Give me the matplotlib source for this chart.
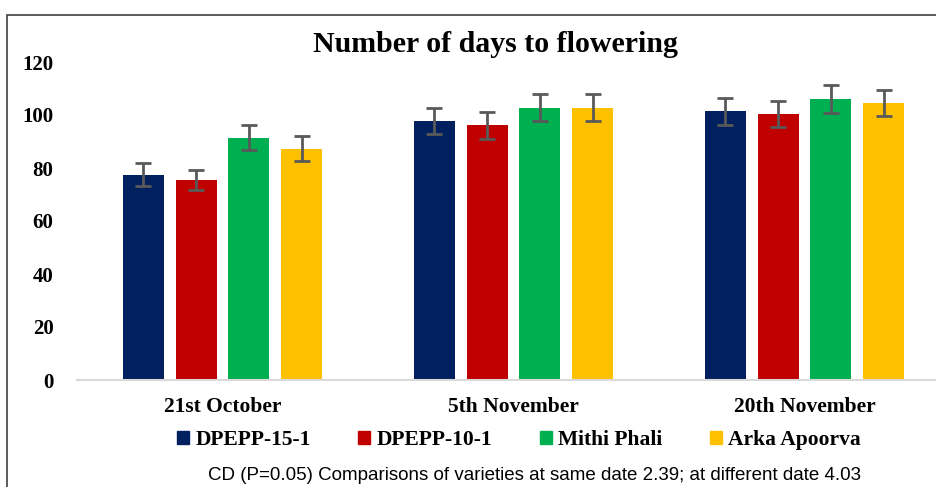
import numpy as np
import matplotlib.pyplot as plt
from matplotlib.patches import Rectangle, Patch

datoer = ["21st October", "5th November", "20th November"]
sorter = ["DPEPP-15-1", "DPEPP-10-1", "Mithi Phali", "Arka Apoorva"]
farger = ["#002060", "#C00000", "#00B050", "#FFC000"]

# dager til blomstring, en liste per sort (21 okt, 5 nov, 20 nov)
dpepp_15_1 = [77.5, 97.7, 101.4]
dpepp_10_1 = [75.5, 96.1, 100.3]
mithi_phali = [91.5, 102.8, 106.1]
arka_apoorva = [87.3, 102.8, 104.5]

feil_15_1 = [4.2, 4.8, 5.1]
feil_10_1 = [3.8, 5.0, 5.0]
feil_mithi = [4.7, 5.2, 5.3]
feil_arka = [4.6, 5.2, 5.0]

verdier = [dpepp_15_1, dpepp_10_1, mithi_phali, arka_apoorva]
feil = [feil_15_1, feil_10_1, feil_mithi, feil_arka]

fig = plt.figure(figsize=(9.36, 4.87), dpi=100)
ax = fig.add_axes([77/936, 107/487, 873/936, 318/487])

x = np.arange(len(datoer))
steg = 0.182
bredde = 0.141
for i, (v, e) in enumerate(zip(verdier, feil)):
    ax.bar(x + (i - 1.5)*steg, v, bredde, color=farger[i], zorder=2)
    ax.errorbar(x + (i - 1.5)*steg, v, yerr=e, fmt="none", ecolor="#595959",
                elinewidth=2, capsize=6, capthick=2, zorder=3)

ax.set_xlim(-0.5, 2.5)
ax.set_ylim(0, 120)
ax.set_yticks(range(0, 121, 20))
ax.set_xticks(x)
ax.set_xticklabels(datoer, fontfamily="Liberation Serif", fontweight="bold", fontsize=15.5)
for t in ax.get_yticklabels():
    t.set_fontfamily("Liberation Serif")
    t.set_fontweight("bold")
    t.set_fontsize(15)
ax.tick_params(axis="both", length=0)
ax.tick_params(axis="y", pad=17)
ax.tick_params(axis="x", pad=12)
for s in ["left", "right", "top"]:
    ax.spines[s].set_visible(False)
ax.spines["bottom"].set_color("#d9d9d9")
ax.spines["bottom"].set_linewidth(1.5)

fig.text(495/936, 1 - 45/487, "Number of days to flowering", ha="center", va="center",
         fontfamily="Liberation Serif", fontweight="bold", fontsize=21.5)

handles = [Patch(color=c) for c in farger]
fig.legend(handles, sorter, loc="center", bbox_to_anchor=(519/936, 1 - 440/487), ncol=4,
           frameon=False, handlelength=0.56, handleheight=0.56, handletextpad=0.3,
           columnspacing=2.2, prop={"family": "Liberation Serif", "weight": "bold", "size": 15.5})

fig.text(534/936, 1 - 476/487, "CD (P=0.05) Comparisons of varieties at same date 2.39; at different date 4.03",
         ha="center", va="center", fontfamily="Liberation Sans", fontsize=13.5)

# ramme rundt figuren
fig.patches.append(Rectangle((7/936, -0.1), 1.0, 1.1 - 15/487, transform=fig.transFigure,
                             fill=False, edgecolor="#404040", linewidth=1.2))

fig.savefig("out.png", dpi=100)
